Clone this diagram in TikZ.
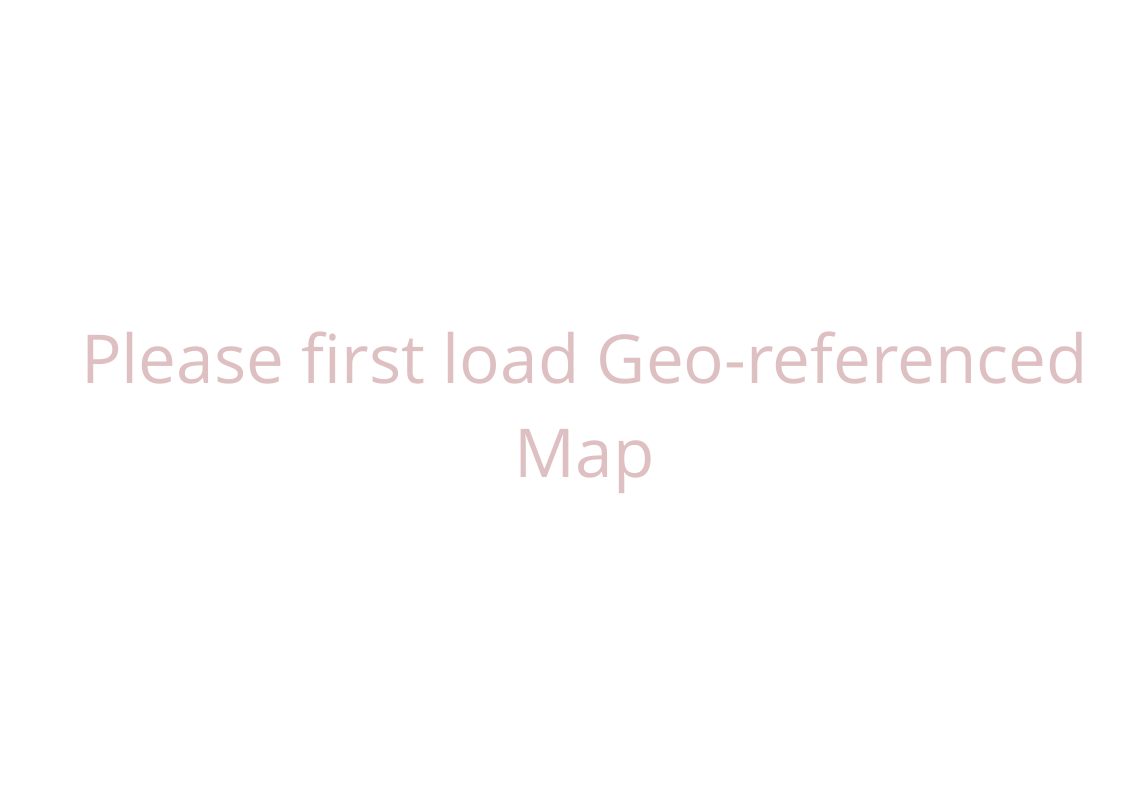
\documentclass[tikz,border=0pt]{standalone}
\usepackage{fontspec}
\setmainfont{Open Sans}
\definecolor{msgpink}{RGB}{222,192,194}
\tikzset{msg/.style={text=msgpink, font=\fontsize{50.6}{70.5}\selectfont, align=center, inner sep=0pt}}
\begin{document}
\begin{tikzpicture}[x=0.75pt,y=-0.75pt]
\useasboundingbox[fill=white] (0,0) rectangle (1123,794);
\node[msg, anchor=base] (msgtext) at (584.5,477) {Please first load Geo-referenced\\Map};
\end{tikzpicture}
\end{document}
